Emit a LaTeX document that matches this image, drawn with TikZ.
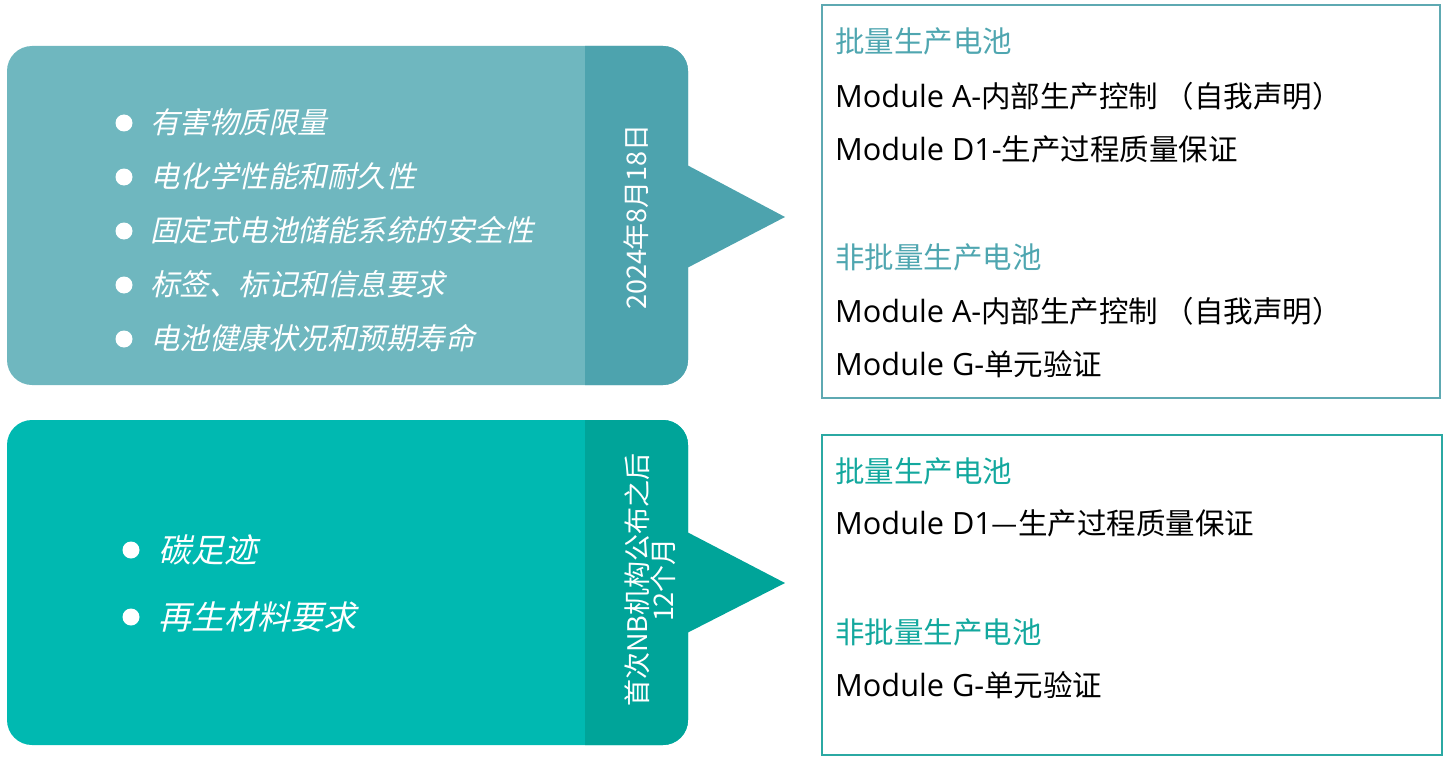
\documentclass[tikz,border=0pt]{standalone}
\usepackage{fontspec}
\setmainfont{Noto Sans CJK SC}
\newfontfamily\cjkit[FakeSlant=0.22]{Noto Sans CJK SC}
\newfontfamily\lat[Scale=1.04]{Open Sans}
\definecolor{tealA}{HTML}{6FB7BF}
\definecolor{tealB}{HTML}{4DA3AE}
\definecolor{greenA}{HTML}{00B9B1}
\definecolor{greenB}{HTML}{00A499}
\definecolor{titleA}{HTML}{4FA6B0}
\definecolor{titleB}{HTML}{13A89E}
\definecolor{borderA}{HTML}{5EA9B2}
\definecolor{borderB}{HTML}{2BA9A3}
\tikzset{
  rtext/.style={anchor=base west, inner sep=0pt, font=\fontsize{29.5}{31}\selectfont, text=black},
  rtitle/.style={rtext},
  bul/.style={circle, fill=white, minimum size=17pt, inner sep=0pt},
  ltext/.style={anchor=base west, inner sep=0pt, text=white, font=\fontsize{29.5}{31}\cjkit},
  ltextB/.style={anchor=base west, inner sep=0pt, text=white, font=\fontsize{33}{35}\cjkit},
  vtext/.style={rotate=90, text=white, inner sep=0pt, align=center, font=\fontsize{27}{24}\selectfont},
}
\begin{document}
\begin{tikzpicture}[x=1pt,y=-1pt]
\useasboundingbox (0,0) rectangle (1448,765);
% top panel
\fill[tealA, rounded corners=25pt] (7,46) rectangle (688,385);
\begin{scope}
  \clip[rounded corners=25pt] (7,46) rectangle (688,385);
  \fill[tealB] (585,40) rectangle (700,390);
\end{scope}
\fill[tealB] (687,165) -- (785,217) -- (687,268) -- cycle;
% bottom panel
\fill[greenA, rounded corners=25pt] (7,420) rectangle (688,745);
\begin{scope}
  \clip[rounded corners=25pt] (7,420) rectangle (688,745);
  \fill[greenB] (585,415) rectangle (700,750);
\end{scope}
\fill[greenB] (687,532) -- (785,583) -- (687,633) -- cycle;
% top bullets
\foreach \y/\t [count=\i] in {123/有害物质限量,177/电化学性能和耐久性,231/固定式电池储能系统的安全性,285/标签、标记和信息要求,339/电池健康状况和预期寿命}{
  \node[bul] (b\i) at (124,\y) {};
  \node[ltext] (l\i) at (150,\y+10.5) {\t};
}
% bottom bullets
\node[bul] (c1) at (131,550) {};
\node[ltextB] (m1) at (158,550+12) {碳足迹};
\node[bul] (c2) at (131,617) {};
\node[ltextB] (m2) at (158,617+12) {再生材料要求};
% vertical labels
\node[vtext] (date) at (636,217) {2024年8月18日};
\node[vtext] (nb) at (650,580) {首次NB机构公布之后\\12个月};
% right boxes
\draw[borderA, line width=1.1pt] (822,5) rectangle (1440,398);
\draw[borderB, line width=1.1pt] (822,435) rectangle (1442,755);
\node[rtitle, text=titleA] (t1) at (835,42+10.5) {批量生产电池};
\node[rtext] (t2) at (835,97+10.5) {{\lat Module A-}内部生产控制 （自我声明）};
\node[rtext] (t3) at (835,150+10.5) {{\lat Module D1-}生产过程质量保证};
\node[rtitle, text=titleA] (t4) at (835,258+10.5) {非批量生产电池};
\node[rtext] (t5) at (835,312+10.5) {{\lat Module A-}内部生产控制 （自我声明）};
\node[rtext] (t6) at (835,365+10.5) {{\lat Module G-}单元验证};
\node[rtitle, text=titleB] (u1) at (835,472+10.5) {批量生产电池};
\node[rtext] (u2) at (835,524+10.5) {{\lat Module D1}—生产过程质量保证};
\node[rtitle, text=titleB] (u3) at (835,633+10.5) {非批量生产电池};
\node[rtext] (u4) at (835,686+10.5) {{\lat Module G-}单元验证};
\end{tikzpicture}
\end{document}
